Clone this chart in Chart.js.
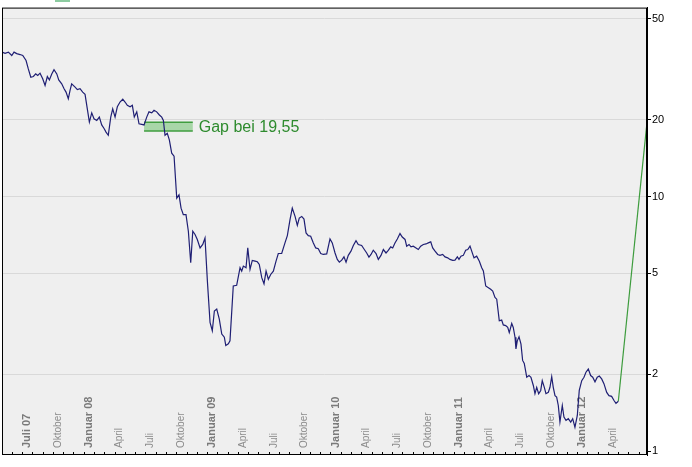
<!DOCTYPE html>
<html>
<head>
<meta charset="utf-8">
<script src="https://cdn.jsdelivr.net/npm/chart.js@4.4.0/dist/chart.umd.min.js"></script>
<style>
  html, body { margin: 0; padding: 0; background: #fff; }
  #wrap { width: 692px; height: 467px; }
</style>
</head>
<body>
<div id="wrap"><canvas id="kurs" width="692" height="467"></canvas></div>
<script>
// Monate seit Januar 2007 (Wochenschlusskurse)
const months = [
  4.12, 4.35, 4.67, 5.00, 5.22, 5.48, 5.81, 6.07, 6.39, 6.61, 6.85, 7.10, 7.33, 7.53, 7.75, 8.01,
  8.24, 8.46, 8.66, 8.89, 9.11, 9.38, 9.57, 9.86, 10.09, 10.28, 10.50, 10.67, 10.83, 11.16, 11.38, 11.64,
  11.90, 12.13, 12.35, 12.55, 12.78, 13.00, 13.27, 13.52, 13.75, 13.98, 14.17, 14.39, 14.63, 14.82, 15.05, 15.27,
  15.53, 15.80, 16.02, 16.24, 16.51, 16.73, 16.92, 17.16, 17.38, 17.64, 17.87, 18.13, 18.35, 18.62, 18.84, 19.10,
  19.36, 19.59, 19.75, 19.91, 20.13, 20.33, 20.56, 20.79, 21.05, 21.27, 21.47, 21.69, 21.95, 22.18, 22.41, 22.61,
  22.83, 23.05, 23.32, 23.58, 23.80, 24.03, 24.29, 24.51, 24.71, 24.94, 25.19, 25.43, 25.68, 25.82, 26.07, 26.23,
  26.55, 26.88, 27.21, 27.37, 27.53, 27.79, 27.96, 28.18, 28.40, 28.67, 28.89, 29.08, 29.32, 29.54, 29.74, 29.96,
  30.19, 30.45, 30.71, 30.93, 31.26, 31.58, 31.81, 32.07, 32.29, 32.56, 32.78, 32.97, 33.21, 33.43, 33.63, 33.85,
  34.08, 34.34, 34.57, 34.82, 35.06, 35.31, 35.64, 35.96, 36.18, 36.45, 36.67, 36.87, 37.10, 37.32, 37.52, 37.74,
  38.00, 38.23, 38.49, 38.71, 39.04, 39.30, 39.53, 39.75, 39.95, 40.17, 40.44, 40.66, 40.92, 41.15, 41.41, 41.63,
  41.87, 42.06, 42.28, 42.51, 42.77, 42.99, 43.26, 43.42, 43.65, 43.84, 44.06, 44.33, 44.55, 44.78, 45.04, 45.30,
  45.52, 45.76, 45.95, 46.18, 46.44, 46.66, 46.92, 47.15, 47.41, 47.63, 47.90, 48.12, 48.35, 48.51, 48.70, 48.93,
  49.16, 49.36, 49.58, 49.97, 50.23, 50.49, 50.72, 50.88, 51.11, 51.37, 51.59, 51.79, 52.01, 52.18, 52.43, 52.66,
  52.82, 53.05, 53.25, 53.40, 53.64, 53.79, 53.96, 54.05, 54.18, 54.35, 54.54, 54.70, 54.86, 55.10, 55.32, 55.51,
  55.74, 55.90, 56.07, 56.26, 56.46, 56.61, 56.81, 56.97, 57.20, 57.36, 57.53, 57.68, 57.85, 58.01, 58.17, 58.33,
  58.56, 58.72, 58.92, 59.14, 59.38, 59.57, 59.79, 60.02, 60.21, 60.45, 60.67, 60.86, 61.09, 61.32, 61.52, 61.74,
  61.96, 62.16, 62.39, 62.61, 62.88, 63.10, 63.36, 63.59, 63.78, 64.01
];

const prices = [
  36.8, 36.5, 36.9, 35.8, 36.9, 36.4, 36.1, 35.8, 34.2, 31.7, 29.4, 29.6, 30.3, 29.9, 30.5, 29.0,
  27.3, 29.6, 28.7, 30.3, 31.5, 30.3, 28.7, 27.7, 26.5, 25.7, 24.2, 26.1, 27.7, 26.9, 26.3, 26.5,
  25.7, 25.2, 22.1, 19.6, 21.3, 20.2, 19.9, 20.5, 19.1, 18.5, 17.9, 17.4, 20.5, 22.1, 20.5, 22.5,
  23.5, 24.1, 23.5, 22.8, 22.5, 22.8, 20.5, 21.5, 19.3, 19.2, 19.1, 20.5, 21.5, 21.3, 21.8, 21.5,
  20.9, 20.5, 19.9, 17.4, 17.7, 16.7, 14.8, 14.4, 9.85, 10.15, 9.0, 8.48, 8.48, 7.3, 5.49, 7.3,
  7.09, 6.78, 6.28, 6.48, 6.87, 4.66, 3.20, 2.97, 3.55, 3.61, 3.30, 2.88, 2.80, 2.60, 2.64, 2.71,
  4.45, 4.48, 5.25, 5.09, 5.33, 5.25, 6.28, 5.17, 5.61, 5.57, 5.54, 5.41, 4.80, 4.54, 5.09, 4.73,
  4.94, 5.09, 5.57, 5.97, 5.97, 6.57, 7.02, 8.11, 9.0, 8.35, 7.7, 8.23, 8.35, 8.15, 7.19, 7.02,
  6.98, 6.57, 6.28, 6.23, 5.97, 5.92, 5.95, 6.81, 6.57, 6.0, 5.66, 5.52, 5.62, 5.79, 5.52, 5.87,
  6.10, 6.42, 6.71, 6.48, 6.42, 6.19, 6.0, 5.78, 5.92, 6.15, 5.97, 5.66, 5.87, 6.19, 6.0, 6.14,
  6.34, 6.28, 6.57, 6.81, 7.15, 6.93, 6.78, 6.38, 6.48, 6.34, 6.38, 6.28, 6.19, 6.38, 6.48, 6.51,
  6.57, 6.63, 6.28, 6.10, 5.92, 5.87, 5.92, 5.79, 5.74, 5.66, 5.61, 5.62, 5.79, 5.66, 5.83, 5.87,
  6.15, 6.19, 6.38, 5.74, 5.83, 5.57, 5.25, 5.1, 4.45, 4.38, 4.32, 4.25, 4.01, 3.95, 3.25, 3.27,
  3.13, 3.11, 3.06, 2.92, 3.17, 3.06, 2.80, 2.52, 2.71, 2.81, 2.63, 2.27, 2.21, 1.95, 1.98, 1.95,
  1.81, 1.68, 1.78, 1.68, 1.73, 1.89, 1.78, 1.68, 1.70, 1.78, 1.96, 1.78, 1.65, 1.63, 1.51, 1.30,
  1.51, 1.36, 1.32, 1.34, 1.30, 1.34, 1.24, 1.38, 1.73, 1.89, 1.95, 2.04, 2.10, 1.98, 1.95, 1.87,
  1.95, 1.97, 1.92, 1.84, 1.70, 1.65, 1.64, 1.58, 1.54, 1.57
];

// Linie zum Gap
const gapLineMonths = [64.01, 66.8];
const gapLineValues = [1.57, 19.55];

// Gap-Zone
const gapZoneMonths = [17.87, 22.61];
const gapZoneValues = [18.1, 19.55];
const gapText = 'Gap bei 19,55';

// Achsen
const xMin = 4.05, xMax = 66.8;
const yMin = 0.965, yMax = 55.2;
const yTicks = [1, 2, 5, 10, 20, 50];
const xLabelMonths = [6, 9, 12, 15, 18, 21, 24, 27, 30, 33, 36, 39, 42, 45, 48, 51, 54, 57, 60, 63];
const xLabels = ['Juli 07', 'Oktober', 'Januar 08', 'April', 'Juli', 'Oktober', 'Januar 09', 'April', 'Juli', 'Oktober',
                 'Januar 10', 'April', 'Juli', 'Oktober', 'Januar 11', 'April', 'Juli', 'Oktober', 'Januar 12', 'April'];
const xLabelBold = [true, false, true, false, false, false, true, false, false, false,
                    true, false, false, false, true, false, false, false, true, false];

const FONT = 'Arial, "Liberation Sans", sans-serif';

// Hintergrund, Gap-Zone, Monatsbeschriftung
const chartDeko = {
  id: 'chartDeko',
  beforeDraw(chart) {
    const { ctx, chartArea: a } = chart;
    ctx.save();
    ctx.fillStyle = '#ffffff';
    ctx.fillRect(0, 0, chart.width, chart.height);
    ctx.fillStyle = '#efefef';
    ctx.fillRect(a.left, a.top, a.right - a.left, a.bottom - a.top);
    // angeschnittenes Legendensymbol oben
    ctx.fillStyle = '#8ccba0';
    ctx.fillRect(55, 0, 15, 2);
    ctx.restore();
  },
  beforeDatasetsDraw(chart) {
    const { ctx, chartArea: a, scales: { x, y } } = chart;
    ctx.save();
    // Beschriftung der Monate (senkrecht, innerhalb der Fläche)
    xLabelMonths.forEach((m, i) => {
      const px = x.getPixelForValue(m + 0.5);
      ctx.save();
      ctx.translate(px, a.bottom - 7);
      ctx.rotate(-Math.PI / 2);
      ctx.textAlign = 'left';
      ctx.textBaseline = 'middle';
      ctx.font = xLabelBold[i] ? 'bold 11px ' + FONT : '10px ' + FONT;
      ctx.fillStyle = xLabelBold[i] ? '#7a7a7a' : '#8c8c8c';
      ctx.fillText(xLabels[i], 0, 0);
      ctx.restore();
    });
    // Gap-Zone
    const x0 = x.getPixelForValue(gapZoneMonths[0]);
    const x1 = x.getPixelForValue(gapZoneMonths[1]);
    const yTop = y.getPixelForValue(gapZoneValues[1]);
    const yBot = y.getPixelForValue(gapZoneValues[0]);
    ctx.fillStyle = 'rgba(120, 196, 120, 0.6)';
    ctx.fillRect(x0, yTop, x1 - x0, yBot - yTop);
    ctx.strokeStyle = '#3f9d3f';
    ctx.lineWidth = 1.5;
    ctx.beginPath();
    ctx.moveTo(x0, yTop); ctx.lineTo(x1, yTop);
    ctx.moveTo(x0, yBot); ctx.lineTo(x1, yBot);
    ctx.stroke();
    ctx.fillStyle = '#2e8b2e';
    ctx.font = '16px ' + FONT;
    ctx.textAlign = 'left';
    ctx.textBaseline = 'middle';
    ctx.fillText(gapText, x1 + 6, (yTop + yBot) / 2 + 1);
    ctx.restore();
  },
  afterDraw(chart) {
    const { ctx, chartArea: a, scales: { x } } = chart;
    ctx.save();
    ctx.strokeStyle = '#000';
    ctx.lineWidth = 1;
    ctx.strokeRect(a.left + 0.5, a.top + 0.5, a.right - a.left - 1, a.bottom - a.top - 1);
    // Monatsstriche an der Unterkante
    ctx.beginPath();
    for (let m = Math.ceil(xMin); m <= Math.floor(xMax); m++) {
      const px = Math.round(x.getPixelForValue(m)) + 0.5;
      ctx.moveTo(px, a.bottom);
      ctx.lineTo(px, a.bottom - 3);
    }
    ctx.stroke();
    ctx.restore();
  }
};

const ctx = document.getElementById('kurs').getContext('2d');
new Chart(ctx, {
  type: 'line',
  data: {
    datasets: [
      {
        data: months.map((m, i) => ({ x: m, y: prices[i] })),
        borderColor: '#1f1f74',
        borderWidth: 1.2,
        pointRadius: 0,
        tension: 0
      },
      {
        data: gapLineMonths.map((m, i) => ({ x: m, y: gapLineValues[i] })),
        borderColor: '#3d9c3d',
        borderWidth: 1.2,
        pointRadius: 0,
        tension: 0
      }
    ]
  },
  options: {
    responsive: false,
    animation: false,
    layout: { padding: { left: 2, top: 5, right: 0, bottom: 12 } },
    plugins: { legend: { display: false }, tooltip: { enabled: false } },
    scales: {
      x: { type: 'linear', min: xMin, max: xMax, display: false },
      y: {
        type: 'logarithmic',
        position: 'right',
        min: yMin,
        max: yMax,
        afterBuildTicks: s => { s.ticks = yTicks.map(v => ({ value: v })); },
        afterFit: s => { s.width = 45; },
        border: { display: true, color: '#000' },
        grid: {
          color: c => (c.tick && c.tick.value === 1) ? 'rgba(0,0,0,0)' : '#d9d9d9',
          tickColor: '#000',
          tickLength: 4,
          lineWidth: 1
        },
        ticks: {
          autoSkip: false,
          color: '#000',
          padding: 1,
          font: { family: FONT, size: 11 },
          callback: v => String(v)
        }
      }
    }
  },
  plugins: [chartDeko]
});
</script>
</body>
</html>
